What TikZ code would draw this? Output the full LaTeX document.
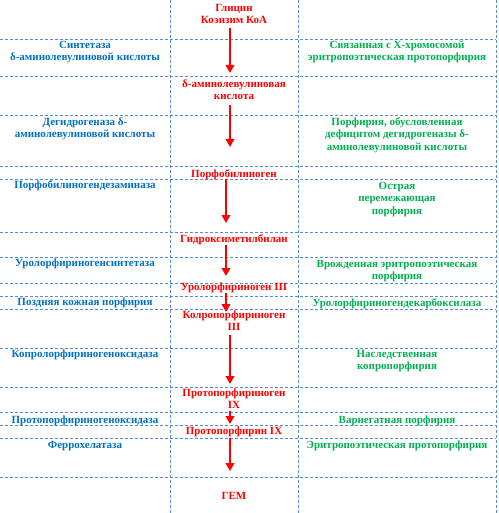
\documentclass[tikz,border=0pt]{standalone}
\usepackage{fontspec}
\setmainfont{Liberation Serif}
\usetikzlibrary{arrows.meta}
\definecolor{gridc}{RGB}{84,141,212}
\definecolor{enzc}{RGB}{0,112,192}
\definecolor{disc}{RGB}{0,176,80}
\definecolor{metc}{RGB}{255,0,0}
\tikzset{
  cell/.style={inner sep=0pt, anchor=north, align=center, font=\bfseries\fontsize{11}{12.5}\selectfont},
  enz/.style={cell, text=enzc},
  dis/.style={cell, text=disc},
  met/.style={cell, text=metc},
  gridline/.style={gridc, line width=0.7pt, dash pattern=on 3pt off 2pt},
  flow/.style={metc, line width=2.6pt, -{Triangle[width=8.5pt,length=8pt]}}
}
\begin{document}
\begin{tikzpicture}[x=1pt,y=-1pt]
\useasboundingbox (0,0) rectangle (498,513);
% grid
\foreach \yy in {39,76,115,166,179,232,257,283,296,309,348,387,412,425,438,477}
  \draw[gridline] (0,\yy) -- (496,\yy);
\foreach \xx in {170,298,496}
  \draw[gridline] (\xx,0) -- (\xx,513);
% middle column (metabolites); north = baseline - 8.75
\node[met] (m1) at (234,2.25) {\strut Глицин\\Коэнзим КоА};
\node[met] (m2) at (234,78.25) {\strut δ-аминолевулиновая\\кислота};
\node[met] (m3) at (234,168.25) {\strut Порфобилиноген};
\node[met] (m4) at (234,233.25) {\strut Гидроксиметилбилан};
\node[met] (m5) at (234,281.25) {\strut Уролорфириноген III};
\node[met] (m6) at (234,309.25) {\strut Колропорфириноген\\III};
\node[met] (m7) at (234,387.25) {\strut Протопорфириноген\\IX};
\node[met] (m8) at (234,425.25) {\strut Протопорфирин IX};
\node[met] (m9) at (234,490.25) {\strut ГЕМ};
% left column
\node[enz] (l1) at (85,39.25) {\strut Синтетаза\\δ-аминолевулиновой кислоты};
\node[enz] (l2) at (85,116.25) {\strut Дегидрогеназа δ-\\аминолевулиновой кислоты};
\node[enz] (l3) at (85,179.25) {\strut Порфобилиногендезаминаза};
\node[enz] (l4) at (85,257.25) {\strut Уролорфириногенсинтетаза};
\node[enz] (l5) at (85,296.25) {\strut Поздняя кожная порфирия};
\node[enz] (l6) at (85,348.25) {\strut Копролорфириногеноксидаза};
\node[enz] (l7) at (85,414.25) {\strut Протопорфириногеноксидаза};
\node[enz] (l8) at (85,439.25) {\strut Феррохелатаза};
% right column
\node[dis] (r1) at (397,39.25) {\strut Связанная с Х-хромосомой\\эритропоэтическая протопорфирия};
\node[dis] (r2) at (397,116.25) {\strut Порфирия, обусловленная\\дефицитом дегидрогеназы δ-\\аминолевулиновой кислоты};
\node[dis] (r3) at (397,180.25) {\strut Острая\\перемежающая\\порфирия};
\node[dis] (r4) at (397,258.25) {\strut Врожденная эритропоэтическая\\порфирия};
\node[dis] (r5) at (397,297.25) {\strut Уролорфириногендекарбоксилаза};
\node[dis] (r6) at (397,348.25) {\strut Наследственная\\копропорфирия};
\node[dis] (r7) at (397,414.25) {\strut Вариегатная порфирия};
\node[dis] (r8) at (397,439.25) {\strut Эритропоэтическая протопорфирия};
% arrows
\coordinate (a1s) at (230,28);  \coordinate (a1e) at (230,73);
\coordinate (a2s) at (230,105); \coordinate (a2e) at (230,147);
\coordinate (a3s) at (226,179); \coordinate (a3e) at (226,223);
\coordinate (a4s) at (226,245); \coordinate (a4e) at (226,276);
\coordinate (a5s) at (226,293); \coordinate (a5e) at (226,312);
\coordinate (a6s) at (230,335); \coordinate (a6e) at (230,384);
\coordinate (a7s) at (230,411); \coordinate (a7e) at (230,424);
\coordinate (a8s) at (230,438); \coordinate (a8e) at (230,471);
\foreach \i in {1,...,8}
  \draw[flow] (a\i s) -- (a\i e);
\end{tikzpicture}
\end{document}
